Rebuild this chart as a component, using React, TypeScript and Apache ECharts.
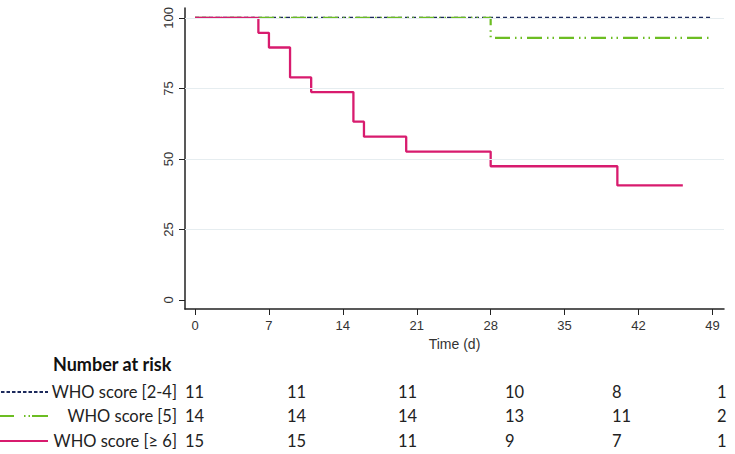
import React, { useEffect, useRef } from "react";
import * as echarts from "echarts";

// Kaplan–Meier step data (time in days, survival %)
const navyTimes = [0, 49];
const navySurv = [100, 100];
const greenTimes = [0, 28, 49];
const greenSurv = [100, 92.9, 92.9];
const redTimes = [0, 6, 7, 9, 11, 15, 16, 20, 28, 40, 46.2];
const redSurv = [100, 94.7, 89.5, 78.9, 73.7, 63.2, 57.9, 52.6, 47.4, 40.6, 40.6];

const xTicks = [0, 7, 14, 21, 28, 35, 42, 49];
const yTicks = [0, 25, 50, 75, 100];
const gridValues = [25, 50, 75, 100];

const groupNames = ["WHO score [2-4]", "WHO score [5]", "WHO score [\u2265 6]"];
const riskNavy = [11, 11, 11, 10, 8, 1];
const riskGreen = [14, 14, 14, 13, 11, 2];
const riskRed = [15, 15, 11, 9, 7, 1];

const NAVY = "#1c2a5c";
const GREEN = "#6cbd22";
const RED = "#d81b6e";

const zip = (t: number[], s: number[]) => t.map((v, i) => [v, s[i]]);

export default function App() {
  const ref = useRef<HTMLDivElement>(null);
  useEffect(() => {
    if (!ref.current) return;
    const chart = echarts.init(ref.current, null, { renderer: "svg" });
    const colX = [185, 287, 398, 505, 612, 717];
    const rowY = [392, 416, 441];
    const riskRows = [riskNavy, riskGreen, riskRed];
    const tableFont = "Lato";
    const graphics: any[] = [
      {
        type: "text",
        x: 53,
        y: 364,
        style: {
          text: "Number at risk",
          font: `bold 18px ${tableFont}`,
          fill: "#111",
          verticalAlign: "middle",
        },
      },
    ];
    groupNames.forEach((name, r) => {
      graphics.push({
        type: "text",
        x: 177,
        y: rowY[r],
        style: {
          text: name,
          font: `16.5px ${tableFont}`,
          fill: "#222",
          align: "right",
          verticalAlign: "middle",
        },
      });
      riskRows[r].forEach((v, c) => {
        graphics.push({
          type: "text",
          x: colX[c],
          y: rowY[r],
          style: {
            text: String(v),
            font: `16.5px ${tableFont}`,
            fill: "#222",
            align: "left",
            verticalAlign: "middle",
          },
        });
      });
    });
    graphics.push(
      {
        type: "line",
        shape: { x1: 1, y1: rowY[0], x2: 48, y2: rowY[0] },
        style: { stroke: NAVY, lineWidth: 1.8, lineDash: [3.5, 2] },
      },
      {
        type: "line",
        shape: { x1: 0, y1: rowY[1], x2: 48, y2: rowY[1] },
        style: { stroke: GREEN, lineWidth: 2, lineDash: [14, 10, 1.5, 3, 1.5, 100] },
      },
      {
        type: "line",
        shape: { x1: 0, y1: rowY[1], x2: 48, y2: rowY[1] },
        style: { stroke: GREEN, lineWidth: 2, lineDash: [0, 32, 16, 10] },
      },
      {
        type: "line",
        shape: { x1: 0, y1: rowY[2], x2: 48, y2: rowY[2] },
        style: { stroke: RED, lineWidth: 2 },
      }
    );

    chart.setOption({
      animation: false,
      backgroundColor: "#fff",
      grid: { left: 185, right: 11, top: 8, bottom: 145, containLabel: false },
      xAxis: {
        type: "value",
        min: -0.95,
        max: 50.1,
        name: "Time (d)",
        nameLocation: "middle",
        nameGap: 27,
        nameTextStyle: { fontFamily: "Liberation Sans", fontSize: 14, color: "#333" },
        axisLine: { show: true, onZero: false, lineStyle: { color: "#222", width: 1.5 } },
        axisTick: { show: true, length: 6, customValues: xTicks, lineStyle: { color: "#222" } },
        axisLabel: {
          customValues: xTicks,
          fontFamily: "Liberation Sans",
          fontSize: 13,
          color: "#333",
          margin: 10,
        },
        splitLine: { show: false },
      },
      yAxis: {
        type: "value",
        min: -3.2,
        max: 103.5,
        axisLine: { show: true, onZero: false, lineStyle: { color: "#222", width: 1.5 } },
        axisTick: { show: true, length: 6, customValues: yTicks, lineStyle: { color: "#222" } },
        axisLabel: {
          customValues: yTicks,
          rotate: 90,
          fontFamily: "Liberation Sans",
          fontSize: 13,
          color: "#333",
          margin: 10,
        },
        splitLine: { show: false },
      },
      series: [
        {
          type: "line",
          data: [],
          silent: true,
          markLine: {
            silent: true,
            symbol: "none",
            label: { show: false },
            lineStyle: { color: "#e6edf0", width: 1, type: "solid" },
            data: gridValues.map((v) => ({ yAxis: v })),
          },
        },
        {
          type: "line",
          name: groupNames[0],
          step: "end",
          symbol: "none",
          data: zip(navyTimes, navySurv),
          lineStyle: { color: NAVY, width: 2, type: [4, 3] },
        },
        {
          type: "line",
          name: groupNames[1],
          step: "end",
          symbol: "none",
          data: zip(greenTimes, greenSurv),
          lineStyle: { color: GREEN, width: 2.2, type: [15, 5, 1.5, 4, 1.5, 5] },
        },
        {
          type: "line",
          name: groupNames[2],
          step: "end",
          symbol: "none",
          data: zip(redTimes, redSurv),
          lineStyle: { color: RED, width: 2.3 },
        },
      ],
      graphic: graphics,
    });
    return () => chart.dispose();
  }, []);
  return (
    <div
      ref={ref}
      style={{ position: "fixed", left: 0, top: 0, width: 735, height: 454 }}
    />
  );
}
